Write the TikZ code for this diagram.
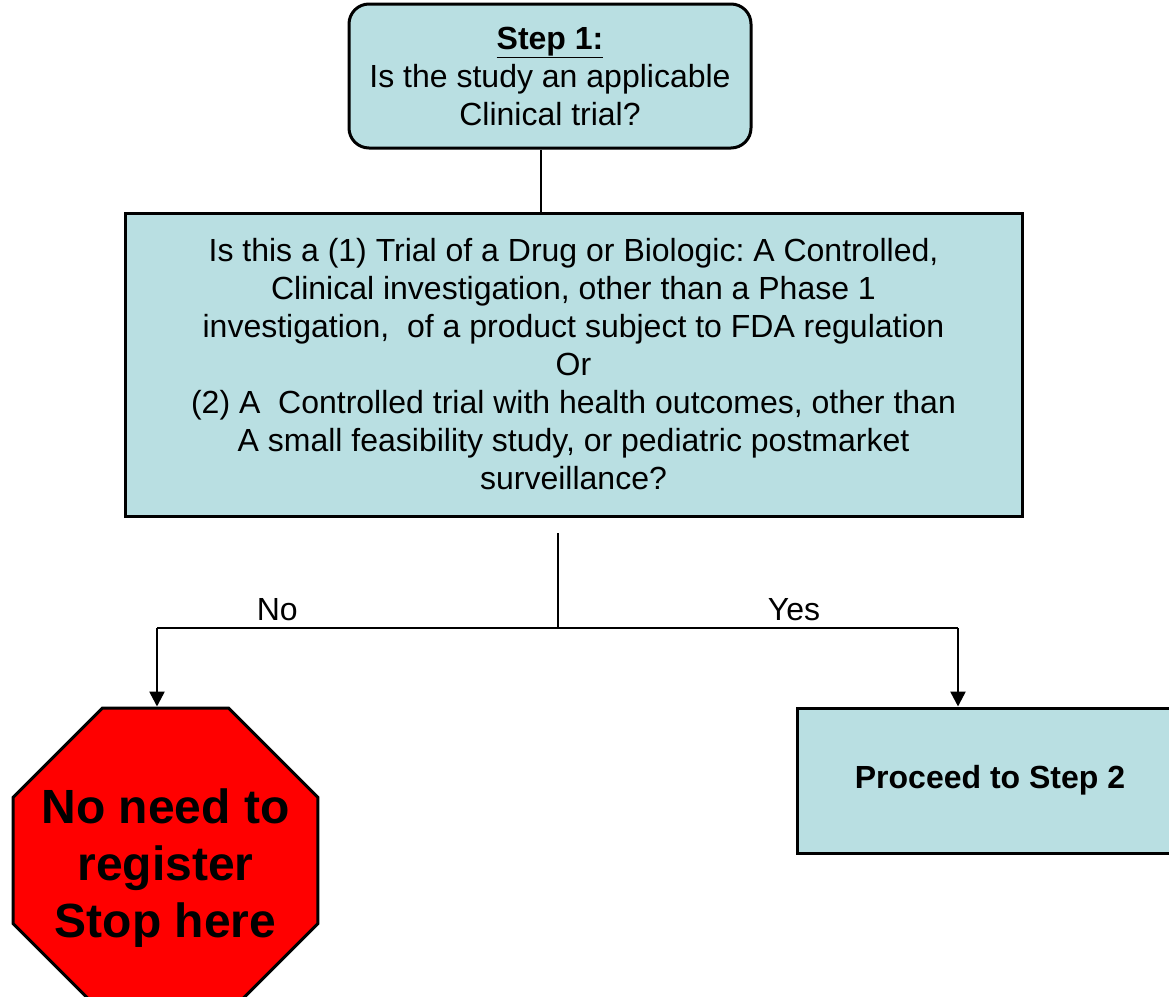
\documentclass[tikz,border=0pt]{standalone}
\usepackage{fontspec}
\setmainfont{Liberation Sans}
\usetikzlibrary{shapes.geometric,arrows.meta}

\definecolor{couleurbackques}{HTML}{B9DFE2}
\definecolor{couleurbackstop}{HTML}{FF0000}
\definecolor{couleurtext}{HTML}{000000}
\newcommand{\lienvert}[2]{\draw[fleche] (#1) -- (#1 |- #2.north);}
\tikzset{
		basic/.style={draw, line width=3pt, text=couleurtext, align=center, inner sep=0pt},
		etape/.style={basic, fill=couleurbackques, rounded corners=20pt},
		question/.style={basic, fill=couleurbackques},
		arret/.style={basic, fill=couleurbackstop, regular polygon, regular polygon sides=8, inner sep=-40pt, font=\fontsize{48}{57}\selectfont\bfseries},
		lien/.style={line width=2.5pt},
		fleche/.style={lien, -{Triangle[length=15pt,width=15pt]}}
	}

\begin{document}
\begin{tikzpicture}[x=1pt, y=-1pt]
		\fontsize{32}{38} \selectfont \frenchspacing
		\useasboundingbox (0,0) rectangle (1169,996);
		% questions
		\node[etape, minimum width=402, minimum height=144](stepone) at (550,76){\underline{\textbf{Step 1:}}\\Is the study an applicable\\Clinical trial?};
		\node[question, minimum width=897, minimum height=303](quesctrl) at (573.5,364.5){Is this a (1) Trial of a Drug or Biologic: A Controlled,\\Clinical investigation, other than a Phase 1\\investigation,\ \ of a product subject to FDA regulation\\Or\\(2) A\ \ Controlled trial with health outcomes, other than\\A small feasibility study, or pediatric postmarket\\surveillance?};
		% issues
		\node[arret, minimum size=330](stophere) at (165.5,860.5){\\[-8pt]No need to\\register\\Stop here};
		\node[question, minimum width=386, minimum height=145, font=\bfseries](procstep) at (990,780.5){Proceed to Step 2};
		
		% Liens
		\coordinate (stemtop) at (558,533);
		\coordinate (fork) at (558,628);
		\coordinate (noturn) at (157,628);
		\coordinate (yesturn) at (958,628);
		\draw[lien] ([xshift=-9pt]stepone.south) -- ([xshift=-9pt]stepone.south |- quesctrl.north);
		\draw[lien] (stemtop) -- (fork);
		\draw[lien] (fork) -- node[pos=0.7, above, inner sep=6pt]{No} (noturn);
		\draw[lien] (fork) -- node[pos=0.59, above, inner sep=6pt]{Yes} (yesturn);
		\lienvert{noturn}{stophere}
		\lienvert{yesturn}{procstep}
	\end{tikzpicture}
\end{document}
